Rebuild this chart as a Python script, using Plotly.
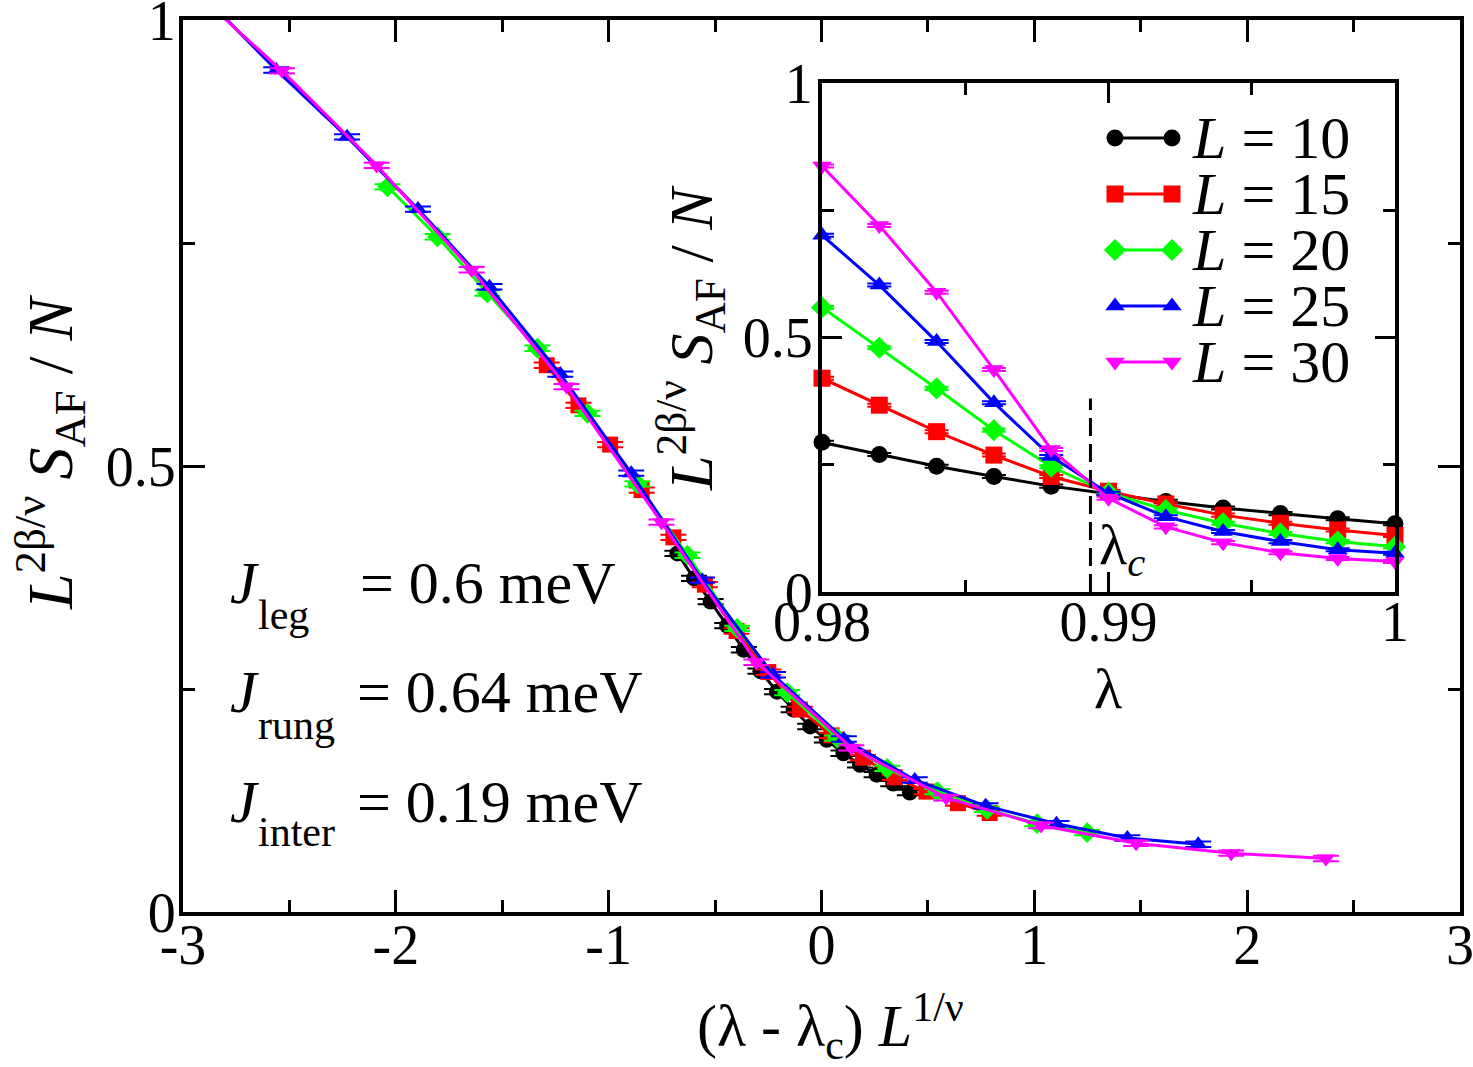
import plotly.graph_objects as go

W, H = 1473, 1067

# ---------------- data ----------------
sizes = [10, 15, 20, 25, 30]
colors = ["#000000", "#ff0000", "#00ff00", "#0000ff", "#ff00ff"]
symbols = ["circle", "square", "diamond", "triangle-up", "triangle-down"]

lam_10 = [0.972, 0.974, 0.976, 0.978, 0.980, 0.982, 0.984, 0.986, 0.988, 0.990, 0.992, 0.994, 0.996, 0.998, 1.000]
xs_10 = [-0.677, -0.599, -0.521, -0.443, -0.365, -0.287, -0.209, -0.131, -0.053, 0.025, 0.103, 0.181, 0.259, 0.337, 0.415]
y_10 = [0.402, 0.374, 0.348, 0.321, 0.294, 0.270, 0.247, 0.227, 0.208, 0.193, 0.178, 0.165, 0.154, 0.144, 0.134]
e_10 = [0.003, 0.003, 0.003, 0.003, 0.003, 0.003, 0.003, 0.003, 0.003, 0.003, 0.003, 0.003, 0.003, 0.003, 0.003]

lam_15 = [0.972, 0.974, 0.976, 0.978, 0.980, 0.982, 0.984, 0.986, 0.988, 0.990, 0.992, 0.994, 0.996, 0.998, 1.000]
xs_15 = [-1.291, -1.142, -0.993, -0.845, -0.696, -0.548, -0.399, -0.250, -0.102, 0.047, 0.195, 0.344, 0.493, 0.641, 0.790]
y_15 = [0.613, 0.568, 0.524, 0.473, 0.420, 0.367, 0.315, 0.269, 0.227, 0.198, 0.173, 0.151, 0.135, 0.122, 0.111]
e_15 = [0.003, 0.003, 0.003, 0.003, 0.003, 0.003, 0.003, 0.003, 0.003, 0.003, 0.003, 0.003, 0.003, 0.003, 0.003]

lam_20 = [0.972, 0.974, 0.976, 0.978, 0.980, 0.982, 0.984, 0.986, 0.988, 0.990, 0.992, 0.994, 0.996, 0.998, 1.000]
xs_20 = [-2.039, -1.804, -1.570, -1.335, -1.100, -0.865, -0.630, -0.396, -0.161, 0.074, 0.309, 0.544, 0.778, 1.013, 1.248]
y_20 = [0.813, 0.757, 0.694, 0.632, 0.559, 0.480, 0.400, 0.318, 0.246, 0.195, 0.161, 0.135, 0.115, 0.099, 0.089]
e_20 = [0.003, 0.003, 0.003, 0.003, 0.003, 0.003, 0.003, 0.003, 0.003, 0.003, 0.003, 0.003, 0.003, 0.003, 0.003]

lam_25 = [0.972, 0.974, 0.976, 0.978, 0.980, 0.982, 0.984, 0.986, 0.988, 0.990, 0.992, 0.994, 0.996, 0.998, 1.000]
xs_25 = [-2.895, -2.562, -2.229, -1.896, -1.560, -1.227, -0.894, -0.561, -0.228, 0.105, 0.438, 0.771, 1.104, 1.437, 1.770]
y_25 = [1.025, 0.944, 0.869, 0.788, 0.701, 0.603, 0.492, 0.372, 0.266, 0.194, 0.148, 0.119, 0.099, 0.083, 0.076]
e_25 = [0.003, 0.003, 0.003, 0.003, 0.003, 0.003, 0.003, 0.003, 0.003, 0.003, 0.003, 0.003, 0.003, 0.003, 0.003]

lam_30 = [0.976, 0.978, 0.980, 0.982, 0.984, 0.986, 0.988, 0.990, 0.992, 0.994, 0.996, 0.998, 1.000]
xs_30 = [-2.981, -2.535, -2.090, -1.644, -1.198, -0.752, -0.306, 0.140, 0.586, 1.032, 1.478, 1.925, 2.370]
y_30 = [1.040, 0.943, 0.837, 0.720, 0.589, 0.437, 0.280, 0.184, 0.128, 0.097, 0.077, 0.066, 0.060]
e_30 = [0.003, 0.003, 0.003, 0.003, 0.003, 0.003, 0.003, 0.003, 0.003, 0.003, 0.003, 0.003, 0.003]

lambda_c = 0.98937
inset_lambda_min = 0.98

main_xticks = [-3, -2, -1, 0, 1, 2, 3]
main_xtext = ["-3", "-2", "-1", "0", "1", "2", "3"]
yticks = [0, 0.5, 1]
ytext = ["0", "0.5", "1"]
inset_xticks = [0.98, 0.99, 1.0]
inset_xtext = ["0.98", "0.99", "1"]

series = [
    (lam_10, xs_10, y_10, e_10),
    (lam_15, xs_15, y_15, e_15),
    (lam_20, xs_20, y_20, e_20),
    (lam_25, xs_25, y_25, e_25),
    (lam_30, xs_30, y_30, e_30),
]

FONT = "Liberation Serif, Times New Roman, serif"


def px(x):
    return x / W


def py(y):
    return 1 - y / H


fig = go.Figure()

# main collapse plot
for (lam, xs, ys, es), L, c, s in zip(series, sizes, colors, symbols):
    fig.add_trace(go.Scatter(
        x=xs, y=ys, xaxis="x", yaxis="y", mode="lines+markers",
        line=dict(color=c, width=3),
        marker=dict(symbol=s, size=16, color=c, line=dict(width=0)),
        error_y=dict(type="data", array=es, color=c, thickness=2, width=13),
        showlegend=False, cliponaxis=True,
    ))

# inset: raw data vs lambda
for (lam, xs, ys, es), L, c, s in zip(series, sizes, colors, symbols):
    li = [l for l in lam if l >= inset_lambda_min - 1e-9]
    yi = [v for l, v in zip(lam, ys) if l >= inset_lambda_min - 1e-9]
    ei = [v for l, v in zip(lam, es) if l >= inset_lambda_min - 1e-9]
    fig.add_trace(go.Scatter(
        x=li, y=yi, xaxis="x2", yaxis="y2", mode="lines+markers",
        line=dict(color=c, width=3),
        marker=dict(symbol=s, size=17, color=c, line=dict(width=0)),
        error_y=dict(type="data", array=ei, color=c, thickness=2, width=12),
        showlegend=False, cliponaxis=False,
    ))

# critical point marker line
fig.add_trace(go.Scatter(
    x=[lambda_c, lambda_c], y=[0, 0.38], xaxis="x2", yaxis="y2", mode="lines",
    line=dict(color="black", width=3, dash="18px,8px"), showlegend=False,
))

# hand-drawn legend (line with marker at both ends) in overlay axes of the inset
leg_rows = [138, 194, 250, 306, 362]
inset_l, inset_r, inset_t, inset_b = 822, 1395, 83, 592
for L, c, s, yr in zip(sizes, colors, symbols, leg_rows):
    fy = (inset_b - yr) / (inset_b - inset_t)
    fx0 = (1115 - inset_l) / (inset_r - inset_l)
    fx1 = (1172 - inset_l) / (inset_r - inset_l)
    fig.add_trace(go.Scatter(
        x=[fx0, fx1], y=[fy, fy], xaxis="x3", yaxis="y3", mode="lines+markers",
        line=dict(color=c, width=3),
        marker=dict(symbol=s, size=17, color=c, line=dict(width=0)),
        showlegend=False, cliponaxis=False,
    ))
    fig.add_annotation(x=px(1190), y=py(yr), xref="paper", yref="paper",
                       text="<i>L</i> = %d" % L, showarrow=False,
                       xanchor="left", yanchor="middle",
                       font=dict(family=FONT, size=60, color="black"))

axis_common = dict(
    showline=True, linecolor="black", linewidth=4, mirror="allticks",
    ticks="inside", tickcolor="black", tickwidth=3, showgrid=False,
    zeroline=False, automargin=False, ticklabeloverflow="allow",
    tickfont=dict(family=FONT, size=56, color="black"),
)

fig.update_layout(
    width=W, height=H, autosize=False,
    margin=dict(l=0, r=0, t=0, b=0, autoexpand=False),
    paper_bgcolor="white", plot_bgcolor="white",
    showlegend=False,
    xaxis=dict(domain=[px(183), px(1460)], range=[-3, 3], anchor="y",
               tickvals=main_xticks, ticktext=main_xtext, ticklen=22,
               ticklabelstandoff=-19,
               minor=dict(dtick=0.5, tick0=0, ticklen=12, tickwidth=3, ticks="inside", tickcolor="black"),
               **axis_common),
    yaxis=dict(domain=[1 - 912 / H, 1 - 20 / H], range=[0, 1], anchor="x",
               tickvals=yticks, ticktext=ytext, ticklen=22,
               ticklabelstandoff=-8,
               minor=dict(dtick=0.25, tick0=0, ticklen=12, tickwidth=3, ticks="inside", tickcolor="black"),
               **axis_common),
    xaxis2=dict(domain=[px(inset_l), px(inset_r)], range=[0.98, 1.0], anchor="y2",
                tickvals=inset_xticks, ticktext=inset_xtext, ticklen=20,
                ticklabelstandoff=-22,
                minor=dict(dtick=0.005, tick0=0.98, ticklen=12, tickwidth=3, ticks="inside", tickcolor="black"),
                **axis_common),
    yaxis2=dict(domain=[1 - inset_b / H, 1 - inset_t / H], range=[0, 1], anchor="x2",
                tickvals=yticks, ticktext=ytext, ticklen=20,
                ticklabelstandoff=-6,
                minor=dict(dtick=0.25, tick0=0, ticklen=12, tickwidth=3, ticks="inside", tickcolor="black"),
                **axis_common),
    xaxis3=dict(overlaying="x2", range=[0, 1], visible=False, anchor="y3"),
    yaxis3=dict(overlaying="y2", range=[0, 1], visible=False, anchor="x3"),
)

# axis titles
fig.add_annotation(x=px(50), y=py(452), xref="paper", yref="paper", textangle=-90,
                   text="<i>L</i><sup>2β/ν</sup> <i>S</i><sub>AF</sub> / <i>N</i>",
                   showarrow=False, xanchor="center", yanchor="middle",
                   font=dict(family=FONT, size=64, color="black"))
fig.add_annotation(x=px(830), y=py(1026), xref="paper", yref="paper",
                   text="(λ - λ<sub>c</sub>) <i>L</i><sup>1/ν</sup>",
                   showarrow=False, xanchor="center", yanchor="middle",
                   font=dict(family=FONT, size=60, color="black"))
fig.add_annotation(x=px(1108), y=py(688), xref="paper", yref="paper", text="λ",
                   showarrow=False, xanchor="center", yanchor="middle",
                   font=dict(family=FONT, size=58, color="black"))
fig.add_annotation(x=px(690), y=py(338), xref="paper", yref="paper", textangle=-90,
                   text="<i>L</i><sup>2β/ν</sup> <i>S</i><sub>AF</sub> / <i>N</i>",
                   showarrow=False, xanchor="center", yanchor="middle",
                   font=dict(family=FONT, size=62, color="black"))
fig.add_annotation(x=px(1097), y=py(548), xref="paper", yref="paper",
                   text="λ<sub><i>c</i></sub>",
                   showarrow=False, xanchor="left", yanchor="middle",
                   font=dict(family=FONT, size=58, color="black"))

# coupling constants
rows = [("leg", "= 0.6 meV", 583, 615, 358),
        ("rung", "= 0.64 meV", 692, 725, 355),
        ("inter", "= 0.19 meV", 802, 832, 355)]
for sub, rhs, yc, ys_, xeq in rows:
    fig.add_annotation(x=px(228), y=py(yc), xref="paper", yref="paper", text="<i>J</i>",
                       showarrow=False, xanchor="left", yanchor="middle",
                       font=dict(family=FONT, size=60, color="black"))
    fig.add_annotation(x=px(256), y=py(ys_), xref="paper", yref="paper", text=sub,
                       showarrow=False, xanchor="left", yanchor="middle",
                       font=dict(family=FONT, size=42, color="black"))
    fig.add_annotation(x=px(xeq), y=py(yc), xref="paper", yref="paper", text=rhs,
                       showarrow=False, xanchor="left", yanchor="middle",
                       font=dict(family=FONT, size=60, color="black"))

fig.write_html("out.html")
